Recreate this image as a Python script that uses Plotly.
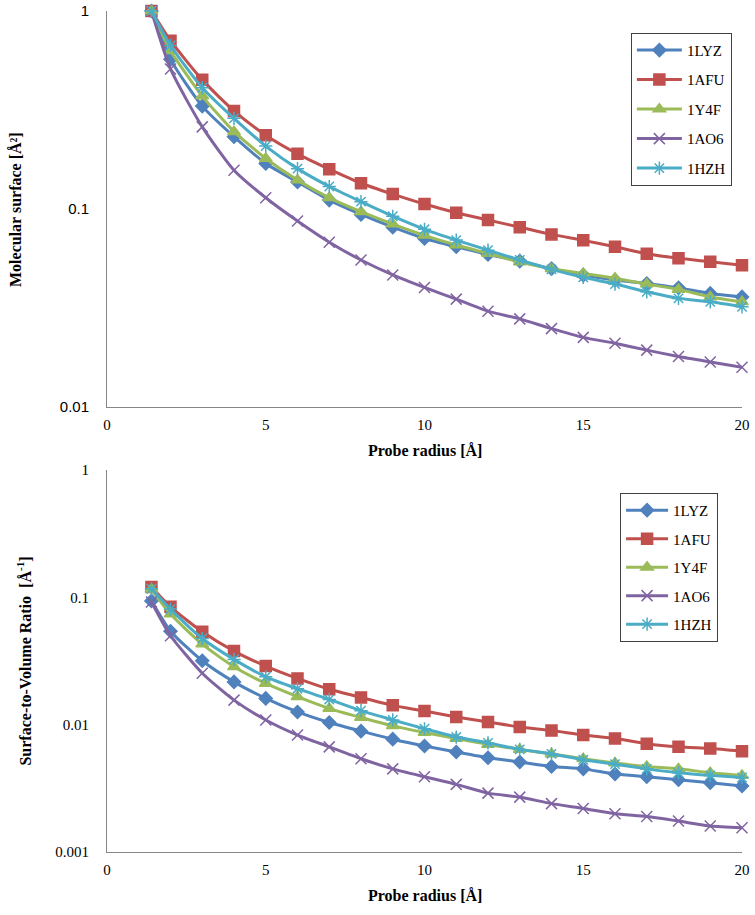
import plotly.graph_objects as go

radius = [1.4, 2, 3, 4, 5, 6, 7, 8, 9, 10, 11, 12, 13, 14, 15, 16, 17, 18, 19, 20]
names = ["1LYZ", "1AFU", "1Y4F", "1AO6", "1HZH"]

# Molecular surface (normalized)
ms_1LYZ = [1, 0.57, 0.331, 0.232, 0.170, 0.137, 0.111, 0.094, 0.081, 0.071, 0.0645, 0.059, 0.0546, 0.050, 0.0464, 0.0438, 0.0421, 0.040, 0.0375, 0.036]
ms_1AFU = [1, 0.708, 0.449, 0.313, 0.236, 0.19, 0.159, 0.135, 0.119, 0.106, 0.0958, 0.088, 0.081, 0.0745, 0.0695, 0.0645, 0.0595, 0.0564, 0.0542, 0.052]
ms_1Y4F = [1, 0.63, 0.372, 0.246, 0.180, 0.140, 0.114, 0.097, 0.084, 0.0737, 0.0658, 0.0597, 0.054, 0.050, 0.0473, 0.0447, 0.0418, 0.0393, 0.036, 0.034]
ms_1AO6 = [1, 0.51, 0.26, 0.157, 0.114, 0.087, 0.068, 0.0553, 0.0465, 0.0402, 0.0351, 0.0305, 0.0279, 0.0249, 0.0225, 0.021, 0.0194, 0.018, 0.0169, 0.0159]
ms_1HZH = [1, 0.67, 0.41, 0.287, 0.208, 0.16, 0.13, 0.109, 0.092, 0.079, 0.0697, 0.062, 0.0553, 0.0496, 0.0452, 0.0418, 0.0382, 0.0354, 0.034, 0.0321]

# Surface-to-volume ratio
sv_1LYZ = [0.094, 0.0543, 0.0318, 0.0217, 0.0161, 0.0126, 0.0104, 0.0089, 0.0077, 0.0068, 0.0061, 0.0055, 0.0051, 0.0047, 0.0045, 0.0041, 0.0039, 0.0037, 0.0035, 0.0033]
sv_1AFU = [0.121, 0.0844, 0.0537, 0.0379, 0.0289, 0.0231, 0.0190, 0.0164, 0.0142, 0.0128, 0.0115, 0.0105, 0.0096, 0.0090, 0.0083, 0.0078, 0.0071, 0.0067, 0.0065, 0.0062]
sv_1Y4F = [0.116, 0.074, 0.043, 0.0285, 0.0211, 0.0166, 0.0134, 0.0114, 0.0098, 0.0087, 0.0078, 0.0070, 0.0064, 0.0059, 0.0054, 0.0050, 0.0047, 0.0045, 0.0042, 0.0040]
sv_1AO6 = [0.092, 0.050, 0.0254, 0.0156, 0.0109, 0.0083, 0.0067, 0.0054, 0.0045, 0.0039, 0.0034, 0.0029, 0.0027, 0.0024, 0.0022, 0.0020, 0.0019, 0.00175, 0.0016, 0.00155]
sv_1HZH = [0.117, 0.081, 0.0476, 0.0326, 0.0238, 0.0192, 0.0158, 0.0129, 0.0109, 0.0093, 0.0080, 0.0072, 0.0064, 0.0059, 0.0053, 0.0049, 0.0045, 0.0042, 0.0040, 0.00385]

ms_series = [ms_1LYZ, ms_1AFU, ms_1Y4F, ms_1AO6, ms_1HZH]
sv_series = [sv_1LYZ, sv_1AFU, sv_1Y4F, sv_1AO6, sv_1HZH]

colors = ["#4F81BD", "#C0504D", "#9BBB59", "#8064A2", "#4BACC6"]
symbols = ["diamond", "square", "triangle-up", "x-thin-open", "asterisk-open"]
sizes = [10, 11, 11, 11, 11]

serif = "Liberation Serif"
sans = "Liberation Sans"
axis_gray = "#878787"

fig = go.Figure()

for i, n in enumerate(names):
    for series, xa, ya, leg in [(ms_series, "x", "y", "legend"), (sv_series, "x2", "y2", "legend2")]:
        fig.add_trace(go.Scatter(
            x=radius, y=series[i], name=n, xaxis=xa, yaxis=ya,
            mode="lines+markers",
            line=dict(color=colors[i], width=3, shape="spline", smoothing=0.6),
            marker=dict(symbol=symbols[i], size=sizes[i], color=colors[i],
                        line=dict(color=colors[i], width=1.5)),
            legend=leg, legendgroup=leg + n, cliponaxis=False,
        ))

top_dom = [0.529, 1.0]
bot_dom = [0.0, 0.454]

xcommon = dict(range=[0, 20], dtick=5, showgrid=False, zeroline=False,
               showline=True, linecolor=axis_gray, linewidth=1, ticks="",
               ticklabelstandoff=4, automargin=False,
               tickfont=dict(family=serif, size=15, color="#000"))

fig.update_layout(
    width=755, height=915,
    margin=dict(l=107, r=13, t=11, b=63),
    paper_bgcolor="white", plot_bgcolor="white",
    showlegend=True,
    xaxis=dict(**xcommon, anchor="y", domain=[0, 1]),
    xaxis2=dict(**xcommon, anchor="y2", domain=[0, 1]),
    yaxis=dict(type="log", range=[-2, 0], domain=top_dom, anchor="x",
               tickvals=[0.01, 0.1, 1], ticktext=["0.01", "0.1", "1"],
               showgrid=False, zeroline=False, showline=True, linecolor=axis_gray,
               ticks="", ticklabelstandoff=14, automargin=False,
               tickfont=dict(family=sans, size=15, color="#000")),
    yaxis2=dict(type="log", range=[-3, 0], domain=bot_dom, anchor="x2",
                tickvals=[0.001, 0.01, 0.1, 1], ticktext=["0.001", "0.01", "0.1", "1"],
                showgrid=False, zeroline=False, showline=True, linecolor=axis_gray,
                ticks="", ticklabelstandoff=14, automargin=False,
                tickfont=dict(family=serif, size=15, color="#000")),
    legend=dict(x=0.825, y=0.974, xanchor="left", yanchor="top",
                bordercolor="#404040", borderwidth=1, bgcolor="white",
                font=dict(family=serif, size=15, color="#000"),
                traceorder="grouped", tracegroupgap=7, itemwidth=45),
    legend2=dict(x=0.808, y=0.427, xanchor="left", yanchor="top",
                 bordercolor="#404040", borderwidth=1, bgcolor="white",
                 font=dict(family=serif, size=15, color="#000"),
                 traceorder="grouped", tracegroupgap=6, itemwidth=42),
    annotations=[
        dict(text="<b>Molecular surface [Å²]</b>", xref="paper", yref="paper",
             x=-0.145, y=(top_dom[0] + top_dom[1]) / 2, textangle=-90, showarrow=False,
             font=dict(family=serif, size=16, color="#000"), xanchor="center", yanchor="middle"),
        dict(text="<b>Surface-to-Volume Ratio  [Å<sup>-1</sup>]</b>", xref="paper", yref="paper",
             x=-0.13, y=(bot_dom[0] + bot_dom[1]) / 2, textangle=-90, showarrow=False,
             font=dict(family=serif, size=16, color="#000"), xanchor="center", yanchor="middle"),
        dict(text="<b>Probe radius [Å]</b>", xref="paper", yref="paper",
             x=0.5, y=top_dom[0], yshift=-43, showarrow=False,
             font=dict(family=serif, size=16, color="#000"), xanchor="center", yanchor="middle"),
        dict(text="<b>Probe radius [Å]</b>", xref="paper", yref="paper",
             x=0.5, y=bot_dom[0], yshift=-43, showarrow=False,
             font=dict(family=serif, size=16, color="#000"), xanchor="center", yanchor="middle"),
    ],
)

fig.write_html("out.html", config={"displayModeBar": False},
               post_script="document.body.style.margin='0';")
